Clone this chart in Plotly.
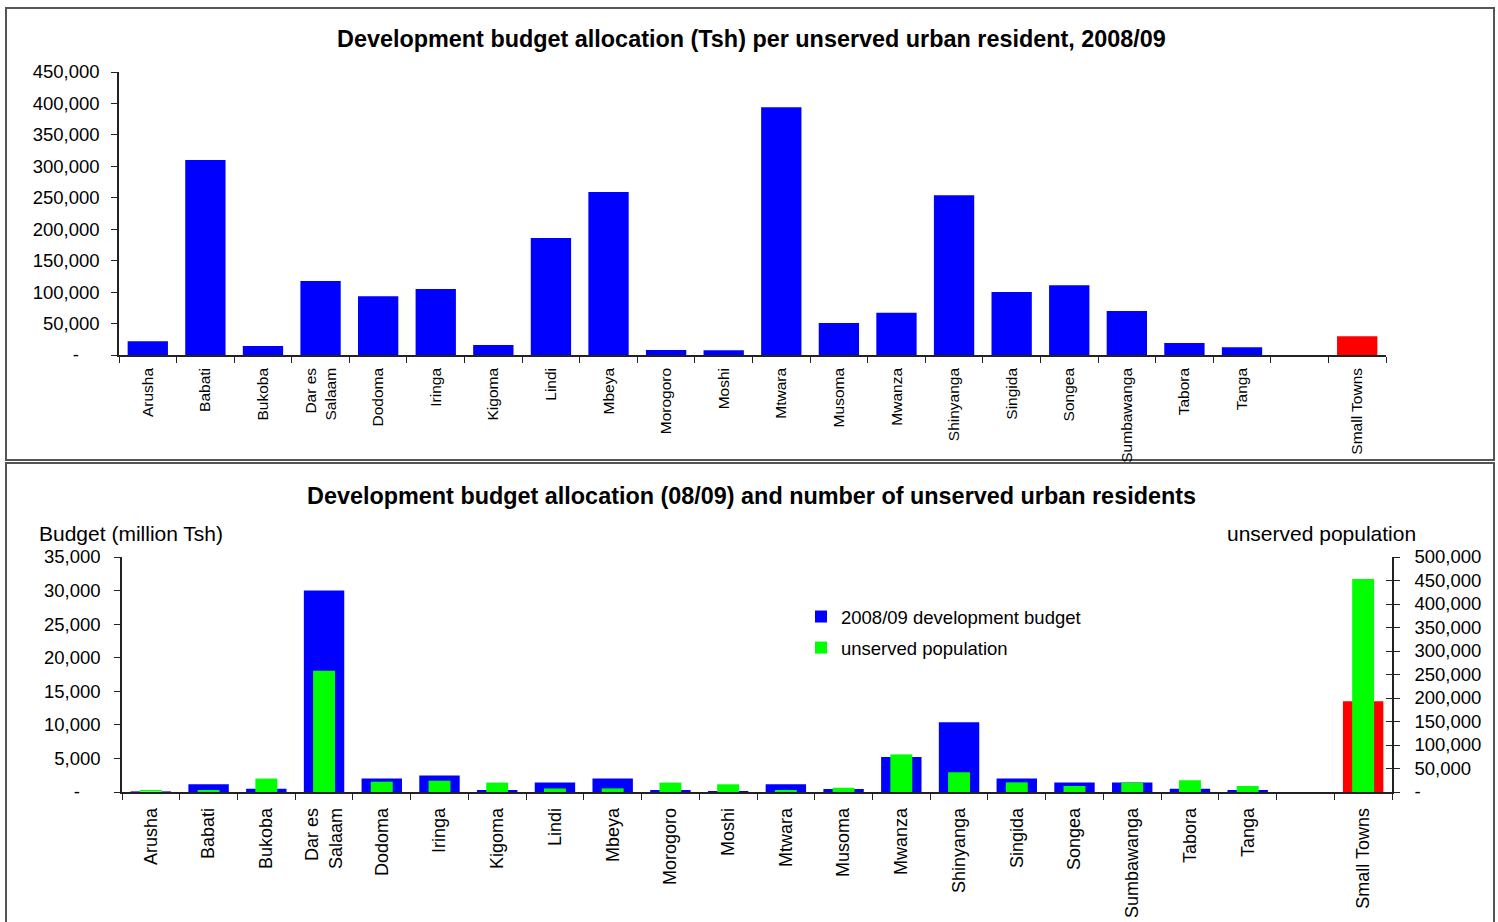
import plotly.graph_objects as go

# ---------------- data ----------------
categories = ["Arusha", "Babati", "Bukoba", "Dar es<br>Salaam", "Dodoma", "Iringa", "Kigoma",
              "Lindi", "Mbeya", "Morogoro", "Moshi", "Mtwara", "Musoma", "Mwanza", "Shinyanga",
              "Singida", "Songea", "Sumbawanga", "Tabora", "Tanga", " ", "Small Towns"]

# Tsh per unserved urban resident, 2008/09
per_resident = [22000, 310000, 14300, 117500, 93500, 105000, 16000, 186000, 259000, 8000, 7500,
                394000, 51000, 67000, 254000, 100000, 111000, 70000, 19000, 12500, None, 30000]

# 2008/09 development budget (million Tsh)
budget_mtsh = [80, 1150, 500, 30000, 2000, 2450, 300, 1400, 2000, 160, 120,
               1150, 450, 5200, 10400, 2000, 1400, 1400, 500, 160, None, 13500]

# unserved population
unserved_pop = [3600, 3700, 28600, 258000, 22000, 24000, 20000, 7500, 7700, 20000, 16400,
                2900, 9000, 80000, 42000, 20500, 12800, 20000, 25000, 12800, None, 453000]

top_ticks = [0, 50000, 100000, 150000, 200000, 250000, 300000, 350000, 400000, 450000]
left_ticks = [0, 5000, 10000, 15000, 20000, 25000, 30000, 35000]
right_ticks = [0, 50000, 100000, 150000, 200000, 250000, 300000, 350000, 400000, 450000, 500000]

NB = "\u00a0"
def fmt_left(v):
    return "-" + NB * 4 if v == 0 else f"{v:,}"
def fmt_right(v):
    return "-" if v == 0 else f"{v:,}"

BLUE, GREEN, RED = "#0000FF", "#00FF00", "#FF0000"
bar_colors = [RED if c == "Small Towns" else BLUE for c in categories]

W, H = 1498, 922
def px(x):
    return x / W
def py(y):
    return 1 - y / H

FONT = "Liberation Sans, Arial, sans-serif"
AX = "#222222"

fig = go.Figure()

fig.add_trace(go.Bar(x=categories, y=per_resident, marker=dict(color=bar_colors, line=dict(width=0)),
                     width=0.7, xaxis="x", yaxis="y", showlegend=False))

fig.add_trace(go.Bar(x=categories, y=budget_mtsh, marker=dict(color=bar_colors, line=dict(width=0)),
                     width=0.7, xaxis="x2", yaxis="y2", name="2008/09 development budget",
                     legendgroup="a"))
fig.add_trace(go.Bar(x=categories, y=unserved_pop, marker=dict(color=GREEN, line=dict(width=0)),
                     width=0.38, xaxis="x2", yaxis="y3", name="unserved population",
                     legendgroup="b"))

axis_common = dict(showline=True, linecolor=AX, linewidth=1.5, ticks="outside",
                   tickcolor=AX, ticklen=6, showgrid=False, zeroline=False,
                   automargin=False)

fig.update_layout(
    width=W, height=H, margin=dict(l=0, r=0, t=0, b=0, autoexpand=False),
    paper_bgcolor="white", plot_bgcolor="white",
    barmode="overlay", bargap=0.3,
    font=dict(family=FONT, color="black"),
    xaxis=dict(domain=[px(119), px(1386)], anchor="y", type="category",
               categoryorder="array", categoryarray=categories,
               tickangle=-90, tickfont=dict(size=15.5), tickson="boundaries",
               ticklabelstandoff=5, **axis_common),
    yaxis=dict(domain=[py(355), py(72)], anchor="x", range=[0, 450000],
               tickvals=top_ticks, ticktext=[fmt_left(v) for v in top_ticks],
               tickfont=dict(size=18.5), ticklabelstandoff=8, **axis_common),
    xaxis2=dict(domain=[px(122), px(1392)], anchor="y2", type="category",
                categoryorder="array", categoryarray=categories,
                tickangle=-90, tickfont=dict(size=18), tickson="boundaries",
                ticklabelstandoff=7, **axis_common),
    yaxis2=dict(domain=[py(792), py(557)], anchor="x2", range=[0, 35000],
                tickvals=left_ticks, ticktext=[fmt_left(v) for v in left_ticks],
                tickfont=dict(size=18.5), ticklabelstandoff=10, **axis_common),
    yaxis3=dict(overlaying="y2", anchor="x2", side="right", range=[0, 500000],
                tickvals=right_ticks, ticktext=[fmt_right(v) for v in right_ticks],
                tickfont=dict(size=18.5), ticklabelstandoff=11, **axis_common),
    # inner half of the crossing tick marks on the right axis
    yaxis4=dict(overlaying="y2", anchor="x2", side="right", range=[0, 500000],
                tickvals=right_ticks, showticklabels=False, ticks="inside", ticklen=6,
                tickcolor=AX, showline=False, showgrid=False, zeroline=False,
                automargin=False),
    legend=dict(x=px(801), y=py(598), xanchor="left", yanchor="top",
                bgcolor="rgba(0,0,0,0)", font=dict(size=18.5), traceorder="grouped",
                tracegroupgap=4),
    annotations=[
        dict(text="<b>Development budget allocation (Tsh) per unserved urban resident, 2008/09</b>",
             x=px(751), y=py(39), xref="paper", yref="paper", showarrow=False,
             xanchor="center", yanchor="middle", font=dict(size=23.4)),
        dict(text="<b>Development budget allocation (08/09) and number of unserved urban residents</b>",
             x=px(751), y=py(496), xref="paper", yref="paper", showarrow=False,
             xanchor="center", yanchor="middle", font=dict(size=23.4)),
        dict(text="Budget (million Tsh)", x=px(37), y=py(533), xref="paper", yref="paper",
             showarrow=False, xanchor="left", yanchor="middle", font=dict(size=21)),
        dict(text="unserved population", x=px(1418), y=py(533), xref="paper", yref="paper",
             showarrow=False, xanchor="right", yanchor="middle", font=dict(size=21)),
    ],
    shapes=[
        dict(type="rect", xref="paper", yref="paper", x0=px(6), x1=px(1494), y0=py(460), y1=py(8),
             line=dict(color="#555555", width=2), layer="below"),
        dict(type="rect", xref="paper", yref="paper", x0=px(6), x1=px(1494), y0=py(940), y1=py(463),
             line=dict(color="#555555", width=2), layer="below"),
    ],
)

# a dummy trace so the extra tick axis is drawn
fig.add_trace(go.Bar(x=[categories[0]], y=[0], xaxis="x2", yaxis="y4", showlegend=False,
                     hoverinfo="skip", marker=dict(color="rgba(0,0,0,0)")))

fig.write_html("out.html",
               config={"displayModeBar": False},
               post_script="document.body.style.margin='0';document.body.style.overflow='hidden';")
